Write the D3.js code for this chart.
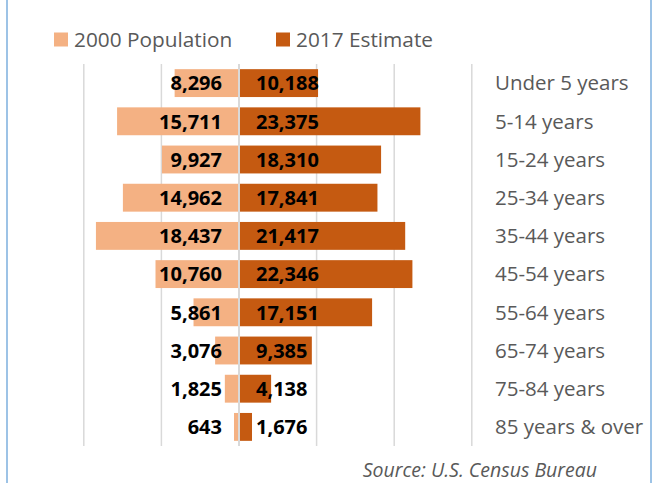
<!DOCTYPE html>
<html>
<head>
<meta charset="utf-8">
<script src="https://cdn.jsdelivr.net/npm/d3@7"></script>
<style>
  html, body { margin: 0; padding: 0; background: #fff; }
  svg { display: block; font-family: "Open Sans", sans-serif; }
</style>
</head>
<body>
<svg id="chart" width="660" height="483"></svg>
<script>
const categories = ["Under 5 years", "5-14 years", "15-24 years", "25-34 years", "35-44 years",
  "45-54 years", "55-64 years", "65-74 years", "75-84 years", "85 years & over"];
const pop2000 = [8296, 15711, 9927, 14962, 18437, 10760, 5861, 3076, 1825, 643];
const est2017 = [10188, 23375, 18310, 17841, 21417, 22346, 17151, 9385, 4138, 1676];
const seriesNames = ["2000 Population", "2017 Estimate"];
const tickValues = [-20000, -10000, 0, 10000, 20000, 30000];
const sourceText = "Source: U.S. Census Bureau";

const colors = ["#f4b183", "#c55a11"];
const svg = d3.select("#chart");
const fmt = d3.format(",");

// frame
svg.append("rect").attr("x", 7).attr("y", -10).attr("width", 644).attr("height", 510)
  .attr("fill", "none").attr("stroke", "#9dc3e6").attr("stroke-width", 2);

const x = d3.scaleLinear().domain([-20000, 30000]).range([83.8, 471.8]);
const y = d3.scaleBand().domain(categories).range([64, 446]).paddingInner(0.27).paddingOuter(0.135);

// gridlines
svg.append("g").selectAll("line").data(tickValues).join("line")
  .attr("x1", d => x(d)).attr("x2", d => x(d))
  .attr("y1", y.range()[0]).attr("y2", y.range()[1])
  .attr("stroke", "#d9d9d9").attr("stroke-width", 1.5);

const rows = categories.map((c, i) => ({ c, a: pop2000[i], b: est2017[i] }));

// bars
svg.append("g").selectAll("rect").data(rows).join("rect")
  .attr("x", d => x(-d.a)).attr("width", d => x(0) - x(-d.a))
  .attr("y", d => y(d.c)).attr("height", y.bandwidth()).attr("fill", colors[0]);
svg.append("g").selectAll("rect").data(rows).join("rect")
  .attr("x", x(0)).attr("width", d => x(d.b) - x(0))
  .attr("y", d => y(d.c)).attr("height", y.bandwidth()).attr("fill", colors[1]);

// zero line over bars
svg.append("line").attr("x1", x(0)).attr("x2", x(0))
  .attr("y1", y.range()[0]).attr("y2", y.range()[1])
  .attr("stroke", "#d9d9d9").attr("stroke-width", 2);

// value labels
const lab = svg.append("g").attr("font-weight", "bold").attr("font-size", 20).attr("fill", "#000");
lab.selectAll("text.l").data(rows).join("text").attr("class", "l")
  .attr("x", x(0) - 17).attr("y", d => y(d.c) + y.bandwidth() / 2)
  .attr("dy", "0.36em").attr("text-anchor", "end").text(d => fmt(d.a));
lab.selectAll("text.r").data(rows).join("text").attr("class", "r")
  .attr("x", x(0) + 17).attr("y", d => y(d.c) + y.bandwidth() / 2)
  .attr("dy", "0.36em").attr("text-anchor", "start").text(d => fmt(d.b));

// category labels
svg.append("g").selectAll("text").data(categories).join("text")
  .attr("x", 495).attr("y", d => y(d) + y.bandwidth() / 2).attr("dy", "0.36em")
  .attr("font-size", 20.5).attr("fill", "#595959").text(d => d);

// legend
const legX = [54, 276];
const leg = svg.append("g").selectAll("g").data(seriesNames).join("g")
  .attr("transform", (d, i) => `translate(${legX[i]},32.5)`);
leg.append("rect").attr("width", 14).attr("height", 14).attr("fill", (d, i) => colors[i]);
leg.append("text").attr("x", 20).attr("y", 14).attr("font-size", 20.8).attr("fill", "#595959").text(d => d);

// source
svg.append("text").attr("x", 597).attr("y", 477).attr("text-anchor", "end")
  .attr("font-size", 19.5).attr("font-style", "italic").attr("fill", "#595959").text(sourceText);
</script>
</body>
</html>
